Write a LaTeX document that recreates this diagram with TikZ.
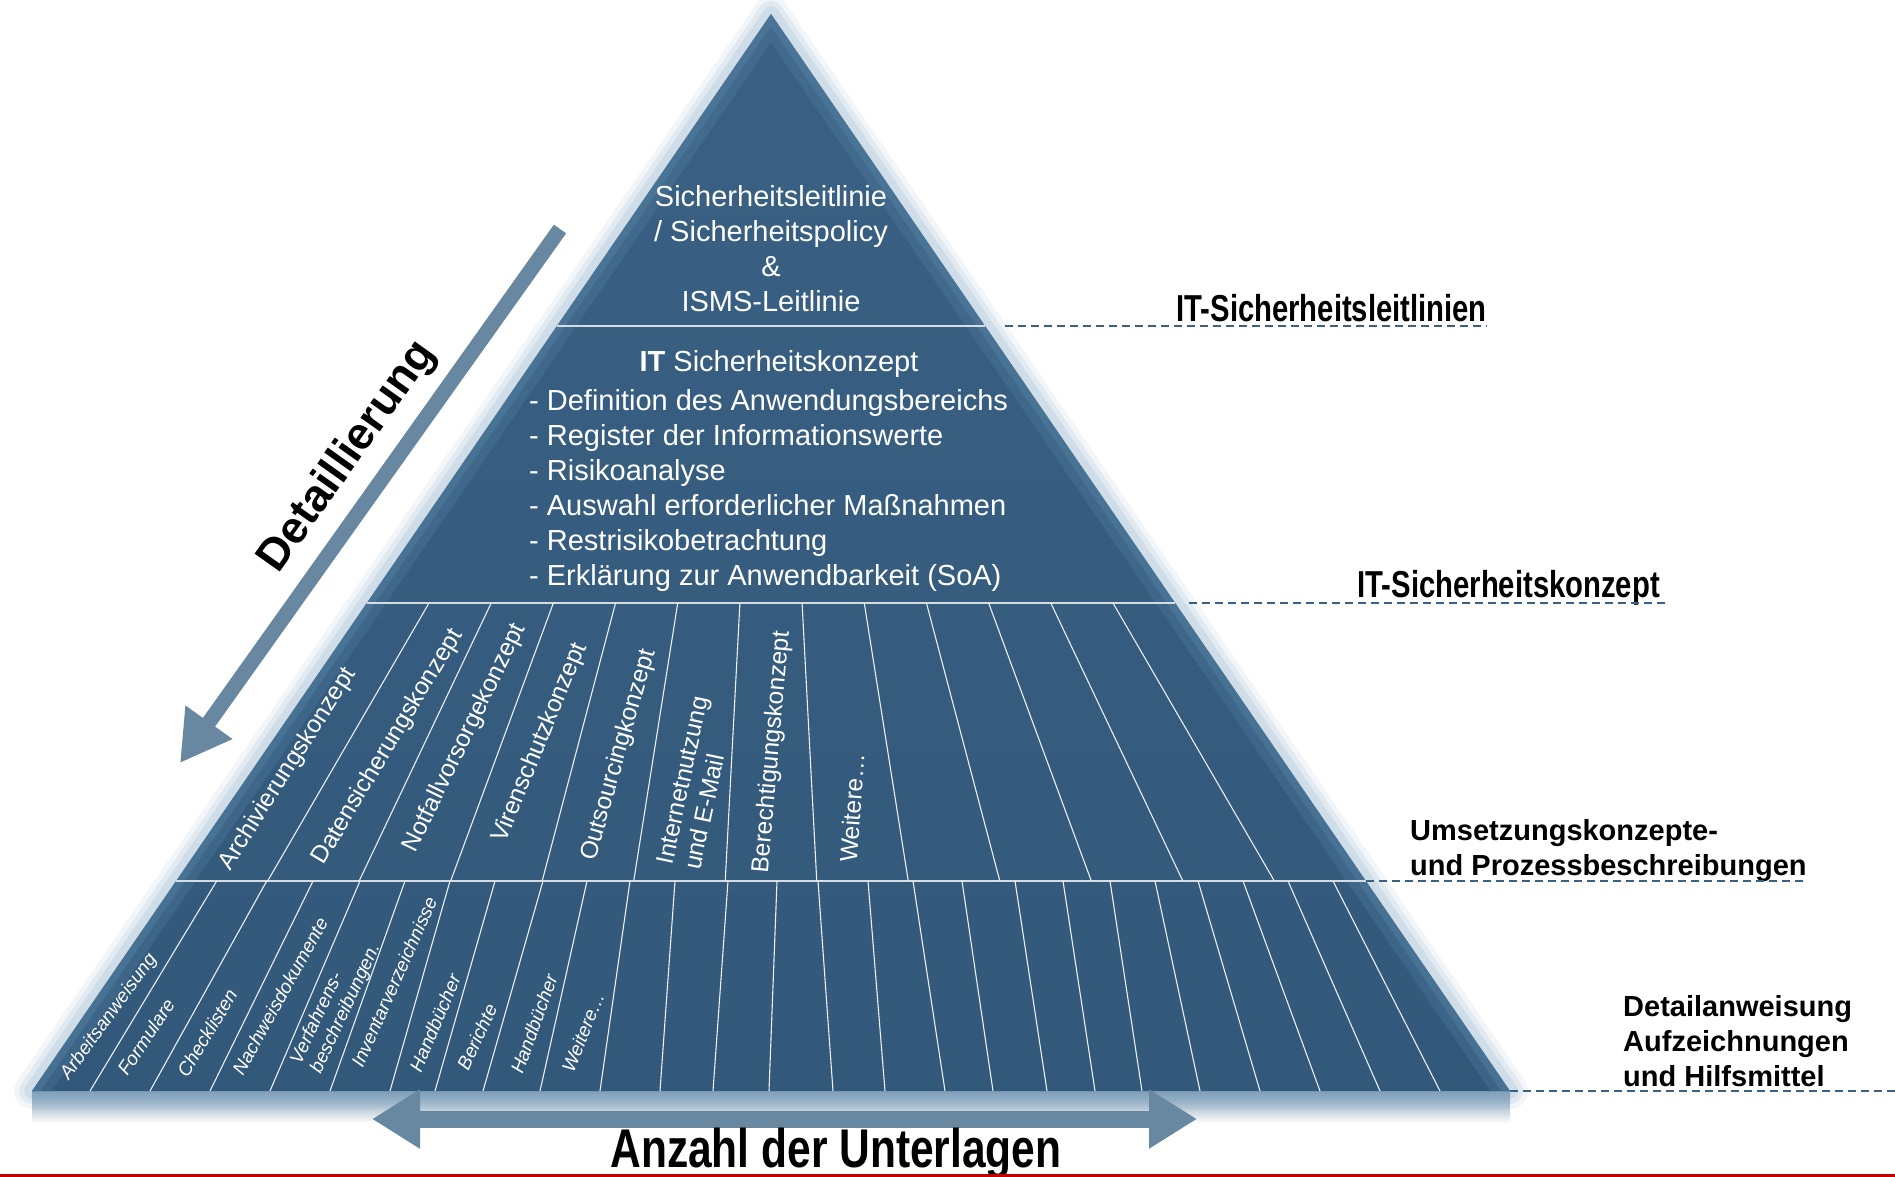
\documentclass[tikz,border=0pt]{standalone}
\usepackage{fontspec}
\setmainfont{Liberation Sans}
\newfontfamily\narrowfont[FakeStretch=0.78]{Liberation Sans}
\usetikzlibrary{arrows.meta,calc}

\definecolor{pyrblue}{RGB}{58,97,131}
\definecolor{pyrdark}{RGB}{50,88,122}
\definecolor{pyredge}{RGB}{86,130,164}
\definecolor{pyrglow}{RGB}{150,180,205}
\definecolor{arrowblue}{RGB}{103,136,160}
\definecolor{leaderblue}{RGB}{60,96,130}
\definecolor{rulered}{RGB}{192,0,0}

\begin{document}
\begin{tikzpicture}[x=1pt, y=-1pt,
    intext/.style={text=white, inner sep=0pt, font=\fontsize{29}{35}\selectfont},
    konzept/.style={text=white, inner sep=0pt, align=left, font=\fontsize{24.5}{28}\selectfont},
    hilfe/.style={text=white, inner sep=0pt, align=left, font=\fontsize{19}{22}\selectfont\itshape},
    ebene/.style={inner sep=0pt, align=left, font=\fontsize{29}{35}\selectfont\bfseries},
    schmal/.style={inner sep=0pt, font=\narrowfont\fontsize{37.5}{40}\selectfont\bfseries},
    leader/.style={leaderblue, line width=2pt, dash pattern=on 8pt off 5pt},
    trenner/.style={white!78!pyrblue, line width=1.6pt},
    spalte/.style={white!90!pyrblue, line width=1.1pt},
    pfeil/.style={arrowblue},
  ]
  \useasboundingbox (0,0) rectangle (1895,1177);

  \coordinate (apex) at (771,14);
  \coordinate (bl) at (32,1091);
  \coordinate (br) at (1510,1091);
  \coordinate (l1) at ($(apex)!0.2897!(bl)$);
  \coordinate (r1) at ($(apex)!0.2897!(br)$);
  \coordinate (l2) at ($(apex)!0.5469!(bl)$);
  \coordinate (r2) at ($(apex)!0.5469!(br)$);
  \coordinate (l3) at ($(apex)!0.8050!(bl)$);
  \coordinate (r3) at ($(apex)!0.8050!(br)$);

  % pyramid with glow and shadow
  \shade[top color=pyrglow!55!pyrblue, bottom color=white] (bl) rectangle ($(br)+(0,32)$);
  \foreach \w/\o in {36/0.12, 26/0.18, 16/0.25}
    \draw[pyrglow, line width=\w pt, line join=round, opacity=\o] (apex) -- (bl) -- (br) -- cycle;
  \shade[top color=pyrblue, bottom color=pyrdark] (apex) -- (bl) -- (br) -- cycle;
  \begin{scope}
    \clip (apex) -- (bl) -- (br) -- cycle;
    \draw[pyredge, line width=32pt, opacity=0.3, line join=round] (bl) -- (apex) -- (br);
    \draw[pyredge, line width=14pt, opacity=0.45, line join=round] (bl) -- (apex) -- (br);
  \end{scope}

  \draw[trenner] (l1) -- (r1);
  \draw[trenner] (l2) -- (r2);
  \draw[trenner] (l3) -- (r3);
  \foreach \i in {1,...,12}
    \draw[spalte] ($(l2)!\i/13!(r2)$) -- ($(l3)!\i/13!(r3)$);
  \foreach \t/\b in {216.7/90, 266.7/150, 313/210, 360/270, 405/330, 450/390,
      495/435, 543/483, 587/540, 630/600, 675/660, 728/713, 777/769, 818/833,
      868/885, 913/945, 962/993, 1015/1047, 1063/1095, 1110/1142, 1155/1200,
      1198/1260, 1243/1320, 1288/1380, 1333/1440}
    \draw[spalte] (\t,881) -- (\b,1091);

  % texts in the pyramid
  \node[intext, anchor=north, align=center] (leitlinie) at (771,185)
    {Sicherheitsleitlinie\\/ Sicherheitspolicy\\\&\\ISMS-Leitlinie};
  \node[intext, anchor=north] (konzepttitel) at (779,350) {\textbf{IT} Sicherheitskonzept};
  \node[intext, anchor=north west, align=left] (konzeptliste) at (529,389)
    {- Definition des Anwendungsbereichs\\- Register der Informationswerte\\- Risikoanalyse\\- Auswahl erforderlicher Maßnahmen\\- Restrisikobetrachtung\\- Erklärung zur Anwendbarkeit (SoA)};

  \node[konzept, rotate=57.5] (archiv)   at (288,769) {Archivierungskonzept};
  \node[konzept, rotate=59]   (datensich) at (388,747) {Datensicherungskonzept};
  \node[konzept, rotate=64]   (notfall)  at (465,738) {Notfallvorsorgekonzept};
  \node[konzept, rotate=67.5] (viren)    at (540,743) {Virenschutzkonzept};
  \node[konzept, rotate=74]   (outsourc) at (619,755) {Outsourcingkonzept};
  \node[konzept, rotate=78]   (internet) at (696,783) {Internetnutzung\\und E-Mail};
  \node[konzept, rotate=85]   (berecht)  at (772,752) {Berechtigungskonzept};
  \node[konzept, rotate=86]   (weiterek) at (852,808) {Weitere…};

  \node[hilfe, rotate=54] (arbeit)    at (109,1017) {Arbeitsanweisung};
  \node[hilfe, rotate=56] (formular)  at (146,1037) {Formulare};
  \node[hilfe, rotate=59] (check)     at (207,1033) {Checklisten};
  \node[hilfe, rotate=61] (nachweis)  at (280,996)  {Nachweisdokumente};
  \node[hilfe, rotate=65] (verfahren) at (336,1004) {Verfahrens-\\beschreibungen.};
  \node[hilfe, rotate=66] (inventar)  at (394,982)  {Inventarverzeichnisse};
  \node[hilfe, rotate=67] (handbuch)  at (435,1023) {Handbücher};
  \node[hilfe, rotate=65] (bericht)   at (477,1037) {Berichte};
  \node[hilfe, rotate=70] (handbuchb) at (534,1024) {Handbücher};
  \node[hilfe, rotate=68] (weitereh)  at (583,1032) {Weitere…};

  % levels on the right
  \node[schmal, anchor=base east] (leitlabel) at (1487,321) {IT-Sicherheitsleitlinien};
  \node[schmal, anchor=base east] (konzlabel) at (1660,597) {IT-Sicherheitskonzept};
  \node[ebene, anchor=north west] (umsetzlabel) at (1410,819)
    {Umsetzungskonzepte-\\und Prozessbeschreibungen};
  \node[ebene, anchor=north west] (detaillabel) at (1623,995)
    {Detailanweisung\\Aufzeichnungen\\und Hilfsmittel};
  \coordinate (rand) at (1895,1091);

  \draw[leader] ($(r1)+(20,0)$) -- (r1 -| leitlabel.east);
  \draw[leader] ($(r2)+(14,0)$) -- ($(r2 -| konzlabel.east)+(8,0)$);
  \draw[leader] (r3) -- (r3 -| umsetzlabel.east);
  \draw[leader] (br) -- (rand);

  % arrows
  \coordinate (dtail) at (560,229);
  \coordinate (dtip) at (180,763);
  \draw[pfeil, line width=15pt, -{Triangle[length=50pt, width=54pt]}] (dtail) -- (dtip);
  \node[inner sep=0pt, rotate=54.6, font=\fontsize{45}{50}\selectfont\bfseries]
    (detaillierung) at (348,457) {Detaillierung};

  \coordinate (aleft) at (372,1119);
  \coordinate (aright) at (1197,1119);
  \draw[pfeil, line width=17pt, {Triangle[length=48pt, width=56pt]}-{Triangle[length=48pt, width=56pt]}]
    (aleft) -- (aright);
  \node[inner sep=0pt, anchor=base, font=\narrowfont\fontsize{54.5}{60}\selectfont\bfseries]
    (anzahl) at (836,1167) {Anzahl der Unterlagen};

  \draw[rulered, line width=2.5pt] (0,1175.5) -- (1895,1175.5);
\end{tikzpicture}
\end{document}
